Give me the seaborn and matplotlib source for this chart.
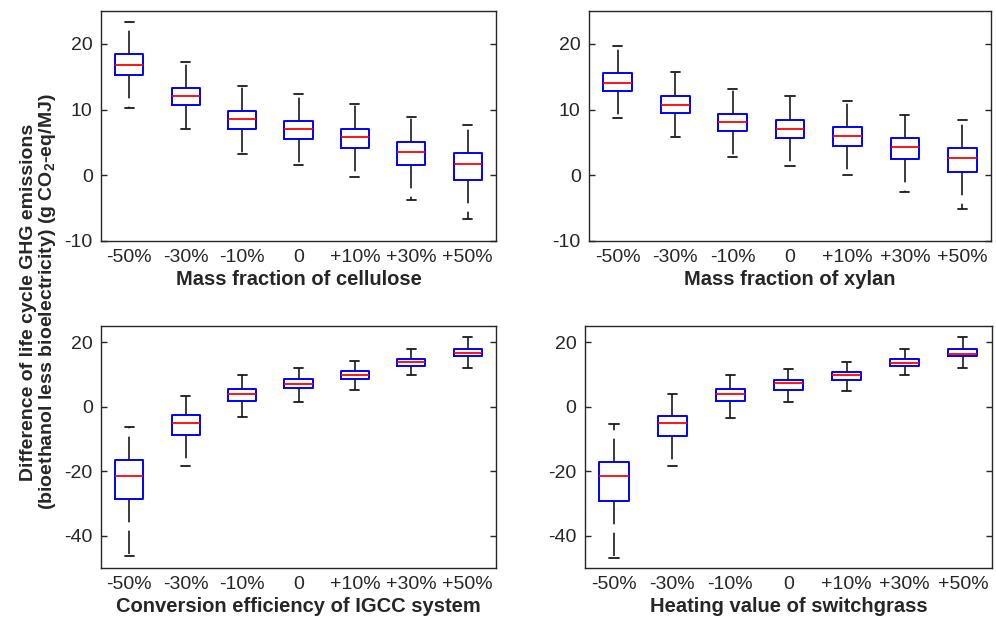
import numpy as np
import pandas as pd
import matplotlib
matplotlib.use("Agg")
import matplotlib.pyplot as plt
import seaborn as sns

# Parameter changes shown on every panel
levels = ["-50%", "-30%", "-10%", "0", "+10%", "+30%", "+50%"]

# Five-number summaries per level: lower whisker, Q1, median, Q3, upper whisker
cellulose_low = [10.3, 7.1, 3.2, 1.5, -0.25, -3.8, -6.7]
cellulose_q1 = [15.2, 10.7, 7.1, 5.55, 4.2, 1.5, -0.65]
cellulose_med = [16.8, 12.1, 8.5, 7.1, 5.75, 3.6, 1.7]
cellulose_q3 = [18.5, 13.3, 9.85, 8.3, 7.1, 5.0, 3.4]
cellulose_high = [23.3, 17.2, 13.6, 12.3, 10.9, 8.8, 7.7]

xylan_low = [8.7, 5.8, 2.8, 1.4, 0.05, -2.5, -5.2]
xylan_q1 = [12.8, 9.4, 6.8, 5.6, 4.5, 2.4, 0.45]
xylan_med = [14.0, 10.65, 8.1, 7.0, 6.0, 4.3, 2.6]
xylan_q3 = [15.5, 12.0, 9.3, 8.4, 7.4, 5.7, 4.1]
xylan_high = [19.6, 15.7, 13.2, 12.0, 11.3, 9.2, 8.4]

igcc_low = [-46.4, -18.4, -3.3, 1.5, 5.3, 9.7, 12.0]
igcc_q1 = [-28.7, -8.7, 1.8, 5.7, 8.5, 12.7, 15.6]
igcc_med = [-21.6, -5.1, 3.8, 7.1, 9.85, 13.8, 16.7]
igcc_q3 = [-16.6, -2.5, 5.4, 8.6, 11.0, 14.9, 17.9]
igcc_high = [-6.4, 3.4, 9.7, 12.0, 14.1, 17.8, 21.5]

heating_low = [-46.8, -18.4, -3.6, 1.5, 5.0, 9.7, 12.0]
heating_q1 = [-29.2, -9.1, 1.8, 5.3, 8.4, 12.7, 15.6]
heating_med = [-21.6, -5.1, 3.9, 7.2, 9.75, 13.6, 16.4]
heating_q3 = [-17.0, -2.8, 5.4, 8.2, 10.6, 14.9, 17.9]
heating_high = [-5.5, 3.9, 9.7, 11.7, 13.9, 17.8, 21.5]

panel_titles = [
    "Mass fraction of cellulose",
    "Mass fraction of xylan",
    "Conversion efficiency of IGCC system",
    "Heating value of switchgrass",
]
panel_stats = [
    (cellulose_low, cellulose_q1, cellulose_med, cellulose_q3, cellulose_high),
    (xylan_low, xylan_q1, xylan_med, xylan_q3, xylan_high),
    (igcc_low, igcc_q1, igcc_med, igcc_q3, igcc_high),
    (heating_low, heating_q1, heating_med, heating_q3, heating_high),
]
top_ticks = [-10, 0, 10, 20]
bottom_ticks = [-40, -20, 0, 20]
top_ylim = (-10, 25)
bottom_ylim = (-50, 25)

# Long-form table: each level contributes its five summary values, so the
# quartiles and min/max computed by the boxplot reproduce the summaries.
rows = []
for title, stats in zip(panel_titles, panel_stats):
    for i, lev in enumerate(levels):
        for s in stats:
            rows.append({"panel": title, "change": lev, "value": s[i]})
df = pd.DataFrame(rows)

sns.set_style("white")
plt.rcParams["font.family"] = ["Liberation Sans", "DejaVu Sans"]
plt.rcParams["axes.unicode_minus"] = False
plt.rcParams["mathtext.fontset"] = "custom"
plt.rcParams["mathtext.rm"] = "Liberation Sans"
plt.rcParams["mathtext.bf"] = "Liberation Sans:bold"

fig = plt.figure(figsize=(9.96, 6.19), dpi=100)
positions = [
    [0.1014, 0.6107, 0.3966, 0.3716],
    [0.5914, 0.6107, 0.4036, 0.3716],
    [0.1014, 0.0824, 0.3966, 0.3910],
    [0.5873, 0.0824, 0.4086, 0.3910],
]

for k, (title, pos) in enumerate(zip(panel_titles, positions)):
    ax = fig.add_axes(pos)
    sub = df[df["panel"] == title]
    sns.boxplot(
        data=sub, x="change", y="value", order=levels, ax=ax,
        whis=np.inf, width=0.5, fill=False, color="#0000ff",
        capwidths=0.16,
        boxprops=dict(color="#0000ff", linewidth=1.4),
        medianprops=dict(color="#ff0000", linewidth=1.3),
        whiskerprops=dict(color="#1a1a1a", linewidth=1.2, linestyle=(0, (14, 5))),
        capprops=dict(color="#1a1a1a", linewidth=1.3),
    )
    ax.set_xlim(-0.5, 6.5)
    if k < 2:
        ax.set_ylim(*top_ylim)
        ax.set_yticks(top_ticks)
    else:
        ax.set_ylim(*bottom_ylim)
        ax.set_yticks(bottom_ticks)
    ax.set_ylabel("")
    ax.set_xlabel(title, fontsize=14.5, fontweight="bold", labelpad=3)
    ax.tick_params(axis="x", length=0, pad=6, labelsize=14)
    ax.tick_params(axis="y", direction="in", length=4, width=1, left=True,
                   right=True, labelsize=14, pad=6, color="#262626")
    for sp in ax.spines.values():
        sp.set_visible(True)
        sp.set_color("#262626")
        sp.set_linewidth(1.0)

fig.text(
    0.039, 0.512,
    "Difference of life cycle GHG emissions\n"
    "(bioethanol less bioelectricity) (g CO$_\\mathbf{2}$-eq/MJ)",
    rotation=90, ha="center", va="center", multialignment="center",
    fontsize=14, fontweight="bold", linespacing=1.0,
)

fig.savefig("out.png", dpi=100)
